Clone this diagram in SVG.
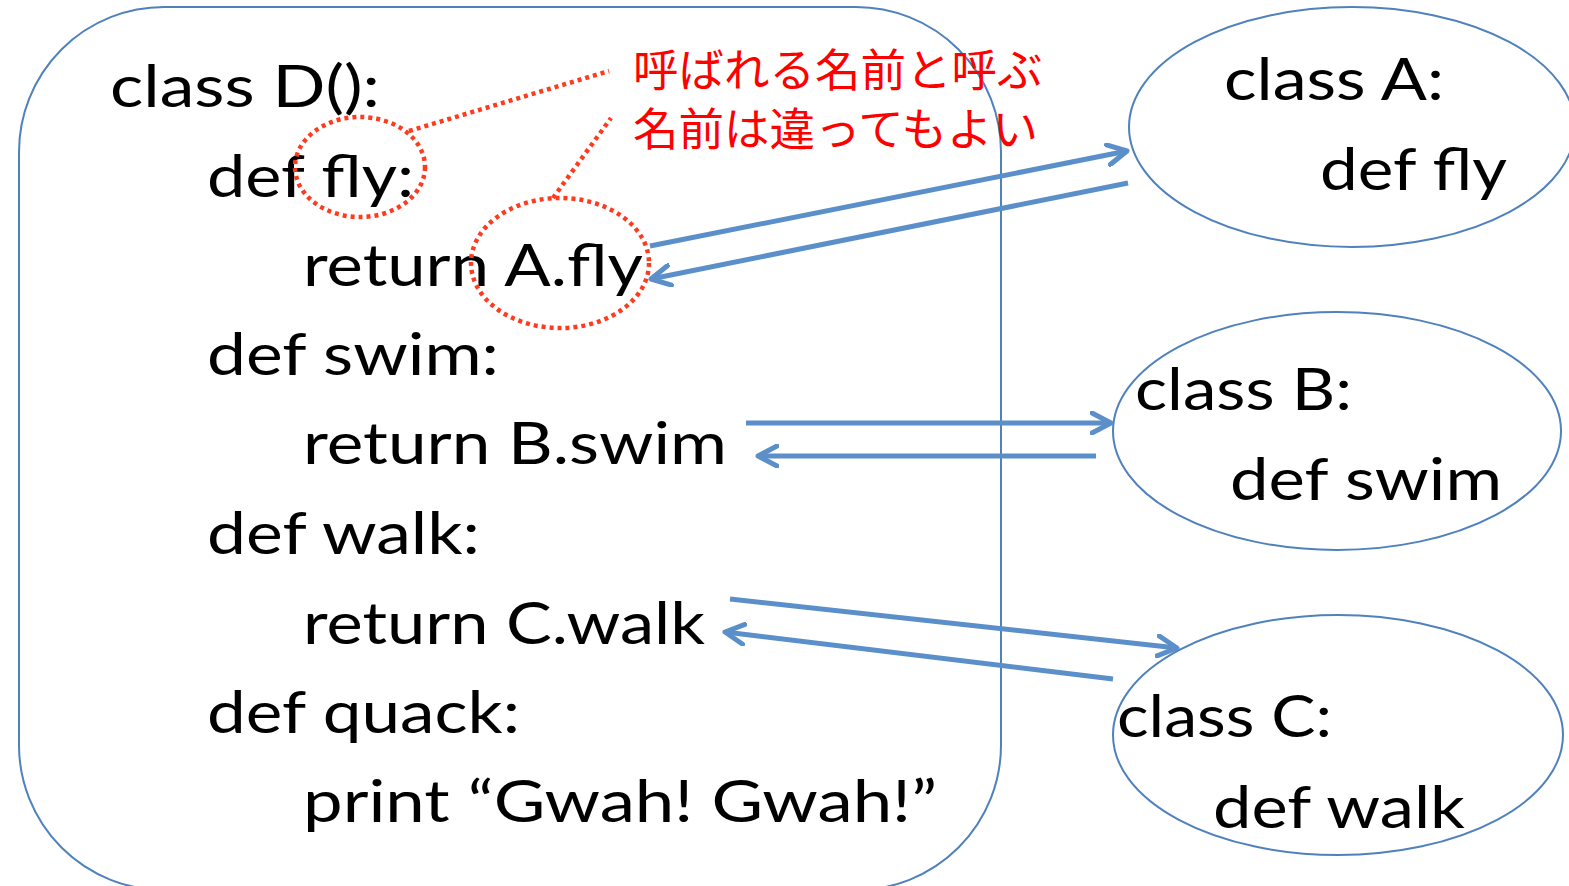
<svg xmlns="http://www.w3.org/2000/svg" width="1569" height="886" viewBox="0 0 1569 886">
<style>
.shape{fill:#fff;stroke:#4F81BD;stroke-width:2}
.code{font-family:Lato,"Open Sans","Liberation Sans",sans-serif;font-size:58px;fill:#000}
.note{font-family:"Noto Sans CJK JP","Noto Sans",sans-serif;font-size:45.5px;fill:#FF0000}
.dot{fill:none;stroke:#FF3B1F;stroke-width:4.5;stroke-dasharray:4 4}
.conn{stroke:#5B8FC9;stroke-width:5;fill:none;marker-end:url(#arr)}
</style>
<defs>
<marker id="arr" viewBox="0 0 24 24" refX="21" refY="12" markerWidth="24" markerHeight="24" markerUnits="userSpaceOnUse" orient="auto">
<path d="M2,2 L21,12 L2,22" fill="none" stroke="#5B8FC9" stroke-width="5" stroke-linecap="round" stroke-linejoin="round"/>
</marker>
</defs>
<rect width="1569" height="886" fill="#fff"/>
<g id="classD">
<rect class="shape" x="19" y="7" width="982" height="883" rx="145" ry="145"/>
<text class="code" x="110" y="107" textLength="270" lengthAdjust="spacingAndGlyphs">class D():</text>
<text class="code" x="207" y="197" textLength="207" lengthAdjust="spacingAndGlyphs">def fly:</text>
<text class="code" x="303" y="286" textLength="340" lengthAdjust="spacingAndGlyphs">return A.fly</text>
<text class="code" x="207" y="375" textLength="292" lengthAdjust="spacingAndGlyphs">def swim:</text>
<text class="code" x="303" y="464" textLength="424" lengthAdjust="spacingAndGlyphs">return B.swim</text>
<text class="code" x="207" y="554" textLength="273" lengthAdjust="spacingAndGlyphs">def walk:</text>
<text class="code" x="303" y="644" textLength="402" lengthAdjust="spacingAndGlyphs">return C.walk</text>
<text class="code" x="207" y="733" textLength="313" lengthAdjust="spacingAndGlyphs">def quack:</text>
<text class="code" x="303" y="822" textLength="634" lengthAdjust="spacingAndGlyphs">print “Gwah! Gwah!”</text>
</g>
<g id="classA">
<ellipse class="shape" cx="1352" cy="127" rx="223" ry="120"/>
<text class="code" x="1224" y="100" textLength="220" lengthAdjust="spacingAndGlyphs">class A:</text>
<text class="code" x="1320" y="190" textLength="187" lengthAdjust="spacingAndGlyphs">def fly</text>
</g>
<g id="classB">
<ellipse class="shape" cx="1337" cy="431" rx="224" ry="119"/>
<text class="code" x="1135" y="410" textLength="217" lengthAdjust="spacingAndGlyphs">class B:</text>
<text class="code" x="1230" y="500" textLength="272" lengthAdjust="spacingAndGlyphs">def swim</text>
</g>
<g id="classC">
<ellipse class="shape" cx="1338" cy="735" rx="225" ry="120"/>
<text class="code" x="1117" y="737" textLength="215" lengthAdjust="spacingAndGlyphs">class C:</text>
<text class="code" x="1213" y="828" textLength="252" lengthAdjust="spacingAndGlyphs">def walk</text>
</g>
<g id="note">
<ellipse class="dot" cx="360" cy="167" rx="65" ry="50"/>
<ellipse class="dot" cx="560" cy="263" rx="89" ry="65"/>
<line class="dot" x1="409" y1="131" x2="609" y2="71"/>
<line class="dot" x1="553" y1="198" x2="611" y2="118"/>
<text class="note" x="633" y="87">呼ばれる名前と呼ぶ</text>
<text class="note" x="633" y="146">名前は違ってもよい</text>
</g>
<g id="connectors">
<line class="conn" x1="650" y1="246" x2="1127" y2="151"/>
<line class="conn" x1="1128" y1="183" x2="651" y2="279"/>
<line class="conn" x1="746" y1="423" x2="1111" y2="423"/>
<line class="conn" x1="1096" y1="456" x2="758" y2="456"/>
<line class="conn" x1="730" y1="599" x2="1177" y2="648"/>
<line class="conn" x1="1113" y1="679" x2="725" y2="632"/>
</g>
</svg>
